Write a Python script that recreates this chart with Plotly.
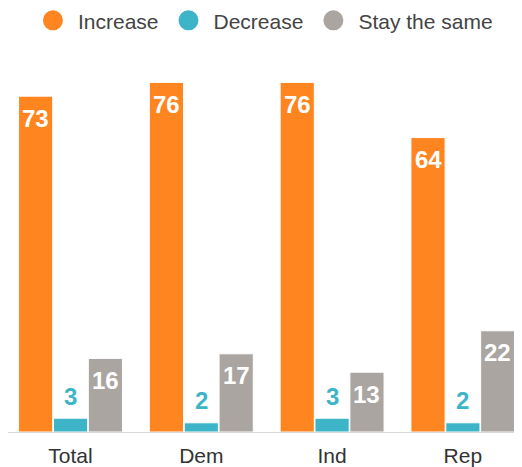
import plotly.graph_objects as go

categories = ["Total", "Dem", "Ind", "Rep"]
increase = [73, 76, 76, 64]
decrease = [3, 2, 3, 2]
stay_same = [16, 17, 13, 22]

series = [
    ("Increase", increase, "#FF8521", "white", -1),
    ("Decrease", decrease, "#3DB4C7", "#3DB4C7", 0),
    ("Stay the same", stay_same, "#AAA5A1", "white", 1),
]

FONT = "Liberation Sans"
W, H = 522, 467
ML, MR, MT, MB = 0, 8, 50, 43
XR = [-0.478, 3.452]
BARGAP = 0.2
LABEL_OFF = 22

px_per_cat = (W - ML - MR) / (XR[1] - XR[0])
slot_px = px_per_cat * (1 - BARGAP) / 3

fig = go.Figure()
for name, vals, color, tcolor, slot in series:
    fig.add_trace(go.Bar(
        x=categories, y=vals, name=name, showlegend=False,
        marker=dict(color=color, line=dict(color="white", width=1)),
        hoverinfo="x+y+name",
    ))
for name, vals, color, tcolor, slot in series:
    fig.add_trace(go.Scatter(
        x=[None], y=[None], mode="markers", name=name,
        marker=dict(color=color, size=16, symbol="circle", line=dict(color=color, width=4)),
    ))

annotations = []
for name, vals, color, tcolor, slot in series:
    inside = slot != 0
    for cat, v in zip(categories, vals):
        annotations.append(dict(
            x=cat, y=v, xref="x", yref="y", text=str(v), showarrow=False,
            xanchor="center", yanchor="middle",
            xshift=slot * slot_px, yshift=-LABEL_OFF if inside else LABEL_OFF,
            font=dict(family=FONT, size=24, color=tcolor, weight="bold"),
        ))

fig.update_layout(
    width=W, height=H,
    margin=dict(l=ML, r=MR, t=MT, b=MB, autoexpand=False),
    paper_bgcolor="white", plot_bgcolor="white",
    barmode="group", bargap=BARGAP, bargroupgap=0.02,
    font=dict(family=FONT, color="#333333"),
    legend=dict(orientation="h", x=0.496, xanchor="center", y=1.0998, yanchor="middle",
                font=dict(size=21, color="#444444"), itemsizing="trace", itemwidth=40),
    showlegend=True,
    annotations=annotations,
)
fig.update_xaxes(range=XR, showline=True, linecolor="#D9D9D9", linewidth=1,
                 ticks="", tickfont=dict(size=21, color="#333333"), ticklabelstandoff=5,
                 fixedrange=True)
fig.update_yaxes(range=[0, 81.3], visible=False, showgrid=False, zeroline=False)

fig.write_html("out.html")
